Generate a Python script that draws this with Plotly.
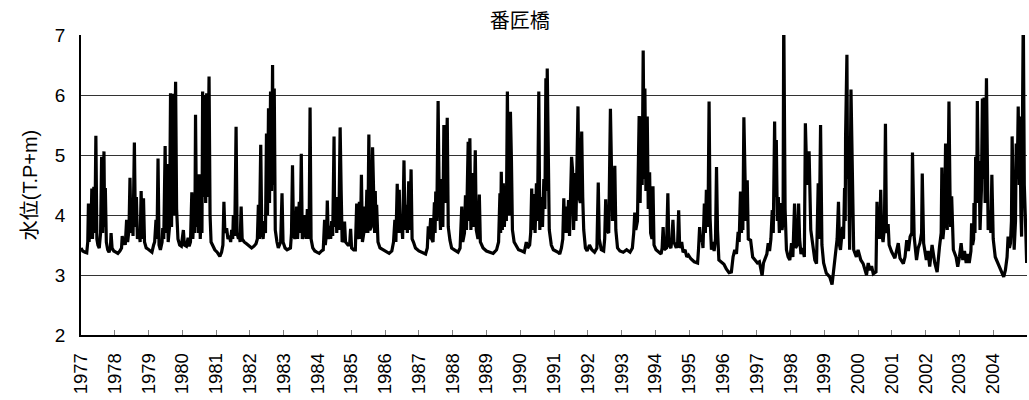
import plotly.graph_objects as go

title_text = "番匠橋"
y_title = "水位(T.P+m)"
tick_years = list(range(1977, 2005))

# (decimal year, water level T.P.+m)
t = [
 1977.00,1977.05,1977.12,1977.17,1977.20,1977.22,1977.24,1977.27,1977.29,1977.32,1977.34,1977.38,1977.41,1977.44,1977.47,1977.50,1977.54,1977.58,1977.61,1977.64,1977.68,1977.70,1977.72,1977.75,1977.79,1977.83,1977.87,1977.89,1977.92,1977.97,
 1978.03,1978.09,1978.15,1978.20,1978.22,1978.25,1978.28,1978.31,1978.35,1978.38,1978.42,1978.45,1978.48,1978.51,1978.54,1978.58,1978.61,1978.64,1978.67,1978.72,1978.75,1978.78,1978.81,1978.85,1978.88,1978.93,1978.99,
 1979.05,1979.10,1979.15,1979.18,1979.22,1979.25,1979.28,1979.31,1979.35,1979.40,1979.42,1979.45,1979.49,1979.52,1979.55,1979.58,1979.62,1979.65,1979.68,1979.72,1979.75,1979.80,1979.83,1979.87,1979.92,1979.97,
 1980.03,1980.06,1980.12,1980.17,1980.20,1980.24,1980.28,1980.31,1980.35,1980.37,1980.39,1980.42,1980.46,1980.48,1980.50,1980.53,1980.56,1980.58,1980.60,1980.63,1980.66,1980.69,1980.72,1980.75,1980.79,1980.82,1980.85,1980.90,1980.96,
 1981.03,1981.11,1981.16,1981.20,1981.23,1981.26,1981.31,1981.35,1981.39,1981.43,1981.46,1981.49,1981.51,1981.55,1981.59,1981.62,1981.66,1981.68,1981.71,1981.74,1981.77,1981.83,1981.90,1981.97,
 1982.05,1982.12,1982.18,1982.22,1982.25,1982.28,1982.32,1982.35,1982.39,1982.43,1982.46,1982.49,1982.52,1982.55,1982.58,1982.61,1982.64,1982.67,1982.69,1982.72,1982.75,1982.80,1982.84,1982.91,1982.95,1982.98,
 1983.04,1983.10,1983.20,1983.23,1983.26,1983.29,1983.33,1983.36,1983.38,1983.41,1983.46,1983.49,1983.52,1983.55,1983.59,1983.62,1983.66,1983.70,1983.73,1983.75,1983.78,1983.81,1983.86,1983.92,1983.98,
 1984.05,1984.12,1984.17,1984.21,1984.23,1984.27,1984.29,1984.32,1984.36,1984.39,1984.42,1984.45,1984.49,1984.51,1984.54,1984.57,1984.60,1984.63,1984.67,1984.70,1984.73,1984.77,1984.80,1984.83,1984.90,1984.95,1984.98,1985.01,
 1985.07,1985.12,1985.16,1985.19,1985.22,1985.24,1985.27,1985.30,1985.33,1985.37,1985.40,1985.43,1985.46,1985.49,1985.52,1985.55,1985.59,1985.63,1985.66,1985.69,1985.71,1985.73,1985.75,1985.79,1985.85,1985.95,
 1986.05,1986.12,1986.20,1986.25,1986.29,1986.32,1986.36,1986.39,1986.42,1986.45,1986.48,1986.52,1986.56,1986.59,1986.63,1986.66,1986.70,1986.73,1986.77,1986.80,1986.84,1986.90,1987.00,
 1987.10,1987.20,1987.25,1987.28,1987.31,1987.35,1987.38,1987.42,1987.46,1987.48,1987.50,1987.53,1987.57,1987.60,1987.64,1987.67,1987.71,1987.74,1987.77,1987.81,1987.84,1987.87,1987.92,1987.97,
 1988.05,1988.16,1988.22,1988.27,1988.30,1988.35,1988.38,1988.41,1988.46,1988.48,1988.51,1988.54,1988.60,1988.63,1988.67,1988.70,1988.75,1988.79,1988.82,1988.90,1989.00,
 1989.10,1989.20,1989.30,1989.36,1989.40,1989.42,1989.44,1989.47,1989.50,1989.53,1989.57,1989.59,1989.62,1989.65,1989.68,1989.71,1989.74,1989.77,1989.82,1989.88,1989.95,
 1990.05,1990.12,1990.18,1990.22,1990.28,1990.31,1990.34,1990.37,1990.41,1990.44,1990.48,1990.51,1990.55,1990.58,1990.62,1990.66,1990.70,1990.73,1990.76,1990.78,1990.80,1990.83,1990.86,1990.92,1990.98,
 1991.05,1991.12,1991.17,1991.22,1991.26,1991.29,1991.32,1991.36,1991.39,1991.43,1991.46,1991.50,1991.52,1991.55,1991.58,1991.62,1991.65,1991.71,1991.74,1991.78,1991.82,1991.85,1991.88,1991.93,1991.98,
 1992.05,1992.12,1992.20,1992.27,1992.31,1992.34,1992.40,1992.47,1992.50,1992.53,1992.56,1992.62,1992.67,1992.70,1992.73,1992.77,1992.80,1992.83,1992.88,1992.95,
 1993.05,1993.15,1993.25,1993.32,1993.36,1993.39,1993.42,1993.47,1993.52,1993.55,1993.58,1993.61,1993.64,1993.67,1993.69,1993.72,1993.76,1993.79,1993.83,1993.86,1993.90,1993.93,1993.96,
 1994.02,1994.10,1994.17,1994.20,1994.23,1994.26,1994.33,1994.37,1994.40,1994.46,1994.49,1994.52,1994.55,1994.62,1994.66,1994.69,1994.72,1994.78,1994.82,1994.88,1994.93,1994.98,
 1995.05,1995.15,1995.25,1995.28,1995.31,1995.34,1995.38,1995.41,1995.45,1995.48,1995.51,1995.54,1995.56,1995.59,1995.62,1995.66,1995.70,1995.74,1995.78,1995.81,1995.84,1995.88,1995.95,
 1996.03,1996.10,1996.18,1996.25,1996.30,1996.35,1996.40,1996.45,1996.48,1996.52,1996.55,1996.57,1996.59,1996.62,1996.65,1996.68,1996.72,1996.75,1996.82,1996.88,1996.95,
 1997.02,1997.08,1997.13,1997.16,1997.20,1997.24,1997.30,1997.34,1997.38,1997.42,1997.46,1997.49,1997.53,1997.55,1997.58,1997.61,1997.64,1997.67,1997.70,1997.75,1997.78,1997.80,1997.82,1997.84,1997.88,1997.93,1997.98,
 1998.03,1998.07,1998.12,1998.15,1998.20,1998.24,1998.27,1998.31,1998.36,1998.41,1998.44,1998.49,1998.55,1998.60,1998.65,1998.72,1998.77,1998.82,1998.85,1998.89,1998.93,1998.98,
 1999.06,1999.16,1999.23,1999.31,1999.38,1999.42,1999.45,1999.48,1999.54,1999.57,1999.60,1999.62,1999.63,1999.67,1999.69,1999.71,1999.75,1999.79,1999.83,1999.87,1999.95,
 2000.00,2000.08,2000.15,2000.25,2000.30,2000.35,2000.40,2000.45,2000.53,2000.56,2000.59,2000.62,2000.64,2000.67,2000.70,2000.74,2000.78,2000.81,2000.84,2000.89,2000.92,2000.99,
 2001.09,2001.19,2001.24,2001.34,2001.39,2001.44,2001.49,2001.54,2001.59,2001.61,2001.64,2001.66,2001.73,2001.78,2001.83,2001.88,2001.90,2001.94,
 2002.02,2002.07,2002.12,2002.19,2002.27,2002.34,2002.41,2002.46,2002.48,2002.51,2002.56,2002.59,2002.62,2002.64,2002.67,2002.69,2002.72,2002.74,2002.77,2002.82,2002.90,2002.95,
 2003.00,2003.05,2003.10,2003.15,2003.20,2003.24,2003.29,2003.34,2003.36,2003.39,2003.42,2003.43,2003.46,2003.48,2003.51,2003.53,2003.56,2003.58,2003.61,2003.65,2003.68,2003.70,2003.73,2003.76,2003.80,2003.83,2003.85,2003.90,2003.93,2003.96,
 2004.00,2004.06,2004.14,2004.21,2004.31,2004.36,2004.41,2004.44,2004.48,2004.51,2004.54,2004.56,2004.59,2004.62,2004.66,2004.68,2004.71,2004.74,2004.77,2004.79,2004.82,2004.84,2004.89,2004.92,2004.96,2004.99,
]
level = [
 3.45,3.40,3.38,3.37,3.55,4.19,3.55,4.00,3.60,4.44,3.60,4.47,3.70,5.32,3.60,3.50,3.45,3.70,4.97,3.70,5.06,3.80,4.45,3.55,3.42,3.38,3.45,3.70,3.45,3.40,
 3.38,3.36,3.40,3.45,3.65,3.50,3.62,3.50,3.92,3.55,3.75,4.62,3.70,4.10,3.65,5.21,3.80,4.30,3.60,3.75,3.55,4.40,3.60,4.28,3.55,3.45,3.43,
 3.40,3.38,3.50,3.55,3.92,3.60,4.94,3.50,3.42,3.55,3.78,3.60,5.15,3.70,4.85,3.55,3.80,6.03,3.80,6.02,4.00,6.22,4.10,3.60,3.50,3.48,
 3.75,3.50,3.48,3.62,3.48,3.55,4.38,3.60,4.15,3.70,5.67,3.80,4.20,3.70,4.68,3.60,4.10,3.70,6.06,4.30,6.00,4.20,6.03,4.30,6.31,4.00,3.55,3.50,3.42,
 3.38,3.31,3.38,3.50,4.22,3.70,3.78,3.60,3.65,3.55,3.75,3.60,4.00,3.65,5.47,3.70,3.60,3.70,3.55,4.14,3.60,3.55,3.52,3.48,
 3.45,3.48,3.52,3.60,4.17,3.60,5.17,3.75,3.60,3.90,3.70,5.36,4.00,5.78,4.20,6.06,4.40,6.50,4.50,6.11,3.75,3.55,3.45,3.55,4.36,3.55,
 3.45,3.42,3.45,3.70,4.83,3.70,3.60,3.80,4.14,3.60,4.22,3.70,5.02,3.60,3.75,4.00,3.60,4.10,3.75,3.60,5.79,3.60,3.45,3.40,3.38,
 3.36,3.40,3.42,3.92,3.50,3.70,4.24,3.60,3.82,3.60,3.90,3.65,5.31,3.80,4.30,3.70,4.30,3.75,5.46,4.42,3.55,3.60,3.89,3.55,3.50,3.50,3.77,3.45,
 3.42,3.42,4.19,3.60,3.80,4.22,3.60,4.67,3.55,3.70,4.14,3.70,4.42,3.70,5.34,3.75,3.80,5.13,4.30,3.70,4.40,3.80,4.17,3.55,3.45,3.42,
 3.39,3.36,3.40,3.55,3.92,3.55,4.52,3.70,4.42,3.70,3.95,3.60,4.91,3.75,4.17,3.70,4.56,3.75,4.76,3.60,3.55,3.45,3.40,
 3.38,3.35,3.45,3.81,3.60,3.95,3.60,3.55,4.21,3.70,4.39,3.90,5.90,4.40,3.75,4.60,3.80,5.50,4.20,4.80,5.62,3.80,3.58,3.45,
 3.42,3.38,3.45,4.14,3.55,3.70,4.33,3.75,5.22,3.90,5.28,3.75,4.70,3.80,5.08,3.75,3.60,4.34,3.55,3.45,3.40,
 3.38,3.36,3.42,3.55,4.36,3.70,4.72,3.75,4.53,3.80,4.30,3.90,6.06,4.30,4.00,5.72,4.92,3.75,3.55,3.50,3.42,
 3.40,3.38,3.55,3.45,3.50,3.70,4.44,3.75,4.35,3.70,4.53,3.90,6.06,3.75,4.30,3.80,4.60,4.10,6.28,4.40,6.44,4.60,3.75,3.50,3.42,
 3.40,3.38,3.35,3.45,3.60,4.28,3.70,4.14,3.70,4.25,3.65,4.30,4.97,4.75,3.75,4.70,3.90,5.81,4.30,4.20,5.39,4.30,3.75,3.45,3.40,
 3.50,3.42,3.38,3.45,4.54,3.60,3.42,3.40,3.60,4.26,3.75,3.70,5.77,4.30,3.90,4.40,4.82,3.75,3.45,3.40,
 3.38,3.42,3.38,3.45,3.70,4.04,3.75,3.90,5.65,4.20,5.64,4.50,6.74,4.60,6.11,4.40,5.64,4.10,4.71,3.70,3.60,4.48,3.50,
 3.42,3.38,3.35,3.45,3.80,3.42,3.45,4.36,3.50,3.45,3.60,3.92,3.55,3.45,3.55,4.08,3.45,3.55,3.38,3.42,3.30,3.33,
 3.27,3.22,3.20,3.45,3.80,3.55,3.62,3.45,4.19,3.70,4.42,3.80,3.95,5.89,3.95,3.42,3.55,3.40,3.60,4.80,3.75,3.25,3.22,
 3.18,3.10,3.04,3.05,3.30,3.42,3.35,3.72,3.55,4.39,3.70,4.15,3.75,5.63,4.50,3.90,4.58,3.60,3.58,3.30,3.25,
 3.20,3.22,3.10,2.99,3.20,3.25,3.35,3.53,3.40,3.60,4.08,3.70,5.56,4.30,5.25,3.90,4.30,3.70,4.20,3.75,3.90,7.40,4.50,4.10,3.42,3.30,3.25,
 3.53,3.30,4.19,3.45,3.50,4.19,3.60,3.35,3.45,3.30,5.53,4.50,5.06,3.75,3.53,3.25,3.19,4.53,3.60,5.50,3.50,3.20,
 3.03,2.97,2.84,3.30,3.60,4.22,3.50,3.42,3.80,3.60,4.45,3.90,5.30,6.67,4.60,5.30,3.42,6.09,4.60,3.42,3.30,
 3.42,3.25,3.19,3.00,3.20,3.08,3.15,3.02,3.05,4.22,3.60,3.92,3.60,4.42,3.70,3.55,3.80,5.52,3.70,3.85,3.50,3.39,
 3.28,3.53,3.28,3.19,3.30,3.58,3.40,3.64,3.70,5.04,3.90,3.64,3.25,3.45,3.53,3.70,4.69,3.53,
 3.25,3.40,3.14,3.50,3.20,3.05,3.47,3.70,4.79,3.60,3.90,5.19,4.00,3.75,4.80,5.89,4.40,3.80,4.31,3.42,3.30,3.14,
 3.30,3.53,3.25,3.40,3.20,3.35,3.20,3.40,3.86,3.50,3.60,4.20,3.70,4.97,4.20,5.90,4.50,4.90,3.75,4.40,5.94,4.60,5.96,4.20,6.28,4.30,3.75,4.08,3.70,4.67,
 3.60,3.30,3.20,3.08,2.97,3.08,3.30,3.64,3.45,3.53,3.90,5.31,3.90,3.42,3.90,5.19,4.60,5.81,4.50,5.64,4.00,3.64,7.40,4.50,3.80,3.20,
]

FONT = "Arial, 'Liberation Sans', 'Noto Sans CJK JP', sans-serif"

fig = go.Figure()
fig.add_trace(go.Scatter(
    x=t, y=level, mode="lines",
    line=dict(color="black", width=3.2),
    showlegend=False, hoverinfo="x+y",
))

fig.update_layout(
    width=1029, height=400,
    margin=dict(l=81, r=2, t=35, b=65, autoexpand=False),
    paper_bgcolor="white", plot_bgcolor="white",
    font=dict(family=FONT, color="black", size=18),
    title=dict(text=title_text, x=0.505, xref="container", xanchor="center",
               y=1 - 21/400, yref="container", yanchor="middle",
               font=dict(size=20, family=FONT, color="black")),
)

fig.update_xaxes(
    range=[1977, 2005],
    tickmode="array", tickvals=tick_years, ticktext=[str(y) for y in tick_years],
    tickangle=-90,
    ticks="inside", ticklen=5, tickcolor="#808080", tickwidth=1,
    showline=True, linecolor="black", linewidth=1.5,
    showgrid=False, zeroline=False,
    tickfont=dict(size=18.5, family=FONT, color="black"),
    ticklabelstandoff=9,
)
fig.update_yaxes(
    range=[2, 7], dtick=1, tick0=2,
    showline=True, linecolor="black", linewidth=1.5,
    showgrid=True, gridcolor="#333333", gridwidth=1,
    zeroline=False, ticks="",
    tickfont=dict(size=19, family=FONT, color="black"),
    ticklabelstandoff=10,
    title=dict(text=y_title, font=dict(size=20, family=FONT, color="black"), standoff=12),
)

fig.write_html("out.html")
